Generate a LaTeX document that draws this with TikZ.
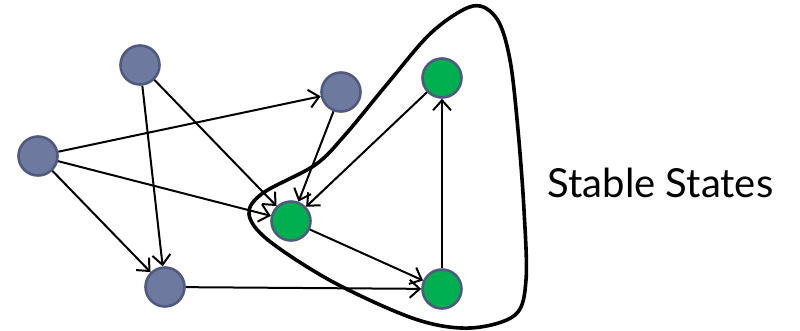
\documentclass[tikz,border=0pt]{standalone}
\usepackage{fontspec}
\setmainfont{Lato}
\usetikzlibrary{arrows.meta}
\definecolor{nodeblue}{HTML}{6E79A0}
\definecolor{nodeedge}{HTML}{505A80}
\definecolor{nodegreen}{HTML}{00B050}
\tikzset{
  state/.style={circle, minimum size=39pt, inner sep=0pt, line width=2.6pt, draw=nodeedge},
  plain/.style={state, fill=nodeblue},
  stable/.style={state, fill=nodegreen},
  conn/.style={line width=2pt, -{Straight Barb[length=10pt,width=18pt,line width=2pt]}},
  blob/.style={line width=3.6pt, line join=round}
}
\begin{document}
\begin{tikzpicture}[x=1pt,y=-1pt]
\useasboundingbox (0,0) rectangle (800,330);
\draw[blob] plot[smooth cycle, tension=0.55] coordinates {
  (473,6) (497,19) (510,60) (518,130) (524,210) (526,280) (515,315) (470,328)
  (415,319) (333,282) (268,240) (249,214) (263,193) (315,165) (345,135) (388,83) (432,32)};
\node[plain]  (A) at (140,65) {};
\node[plain]  (B) at (341,92) {};
\node[plain]  (C) at (38,156) {};
\node[plain]  (D) at (165,287) {};
\node[stable] (E) at (291,221) {};
\node[stable] (F) at (442,78) {};
\node[stable] (G) at (442,289) {};
\draw[conn] (C) -- (B);
\draw[conn] (C) -- (E);
\draw[conn] (C) -- (D);
\draw[conn] (A) -- (D);
\draw[conn] (A) -- (E);
\draw[conn] (B) -- (E);
\draw[conn] (F) -- (E);
\draw[conn] (E) -- (G);
\draw[conn] (D) -- (G);
\draw[conn] (G) -- (F);
\node[font=\fontsize{40}{48}\selectfont, anchor=base west] (L) at (544,197) {Stable States};
\end{tikzpicture}
\end{document}
